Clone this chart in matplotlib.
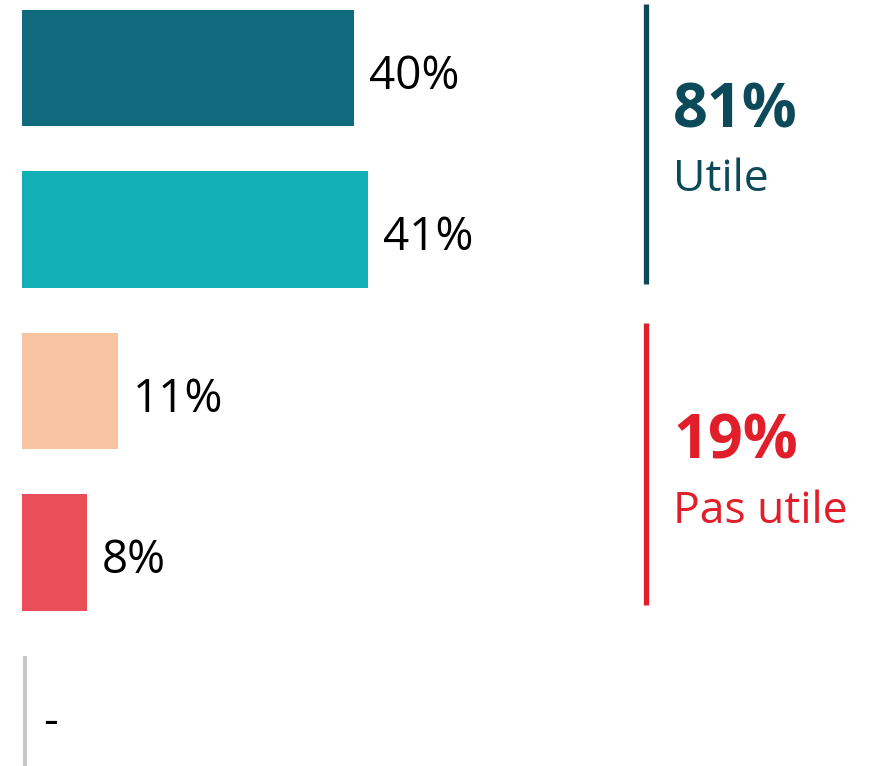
import numpy as np
import matplotlib.pyplot as plt

# données (étiquettes arrondies)
categories = ["a", "b", "c", "d", "e"]
valeurs = [39.5, 41.2, 11.4, 7.7, 0]
etiquettes = ["40%", "41%", "11%", "8%", "-"]
couleurs = ["#0F6A7D", "#13AFB6", "#F7C4A2", "#E84F58", "#FFFFFF"]

groupes = ["Utile", "Pas utile"]
groupes_pct = ["81%", "19%"]
groupes_couleurs = ["#0C4A5A", "#E01F2B"]

plt.rcParams['font.family'] = ['Open Sans', 'DejaVu Sans']

W, H = 876, 766
fig = plt.figure(figsize=(W / 100, H / 100), dpi=100)
ax = fig.add_axes([0, 0, 1, 1])

# échelle : px par % et px par ligne
px_x = 8.4
x0 = 22
pas = 161.5
y0 = 68
ax.set_xlim(-x0 / px_x, (W - x0) / px_x)
ax.set_ylim((H - y0) / pas, -y0 / pas)
ax.axis('off')

y = np.arange(len(categories))
ax.barh(y, valeurs, height=0.72, color=couleurs)

for i in range(len(categories)):
    dx = 1.8 if valeurs[i] > 0 else 2.5
    ax.text(valeurs[i] + dx, y[i] + 0.13, etiquettes[i], fontsize=33,
            va='baseline', ha='left', color='black')

# ligne grise pour la catégorie vide
ax.plot([0.36, 0.36], [y[4] - 0.36, y[4] + 0.4], color='#C8C8C8', lw=3,
        solid_capstyle='butt')

# accolades à droite
xl = (646 - x0) / px_x
xt = (673 - x0) / px_x
plages = [(-0.396, 1.337), (1.579, 3.325)]
bases = [(128, 191), (459, 523)]
for k in range(2):
    ax.plot([xl, xl], plages[k], color=groupes_couleurs[k], lw=3.8,
            solid_capstyle='butt')
    ax.text(xt, (bases[k][0] - y0) / pas, groupes_pct[k], fontsize=44,
            fontweight='bold', color=groupes_couleurs[k], va='baseline')
    ax.text(xt, (bases[k][1] - y0) / pas, groupes[k], fontsize=32,
            color=groupes_couleurs[k], va='baseline')

fig.savefig("out.png", dpi=100)
